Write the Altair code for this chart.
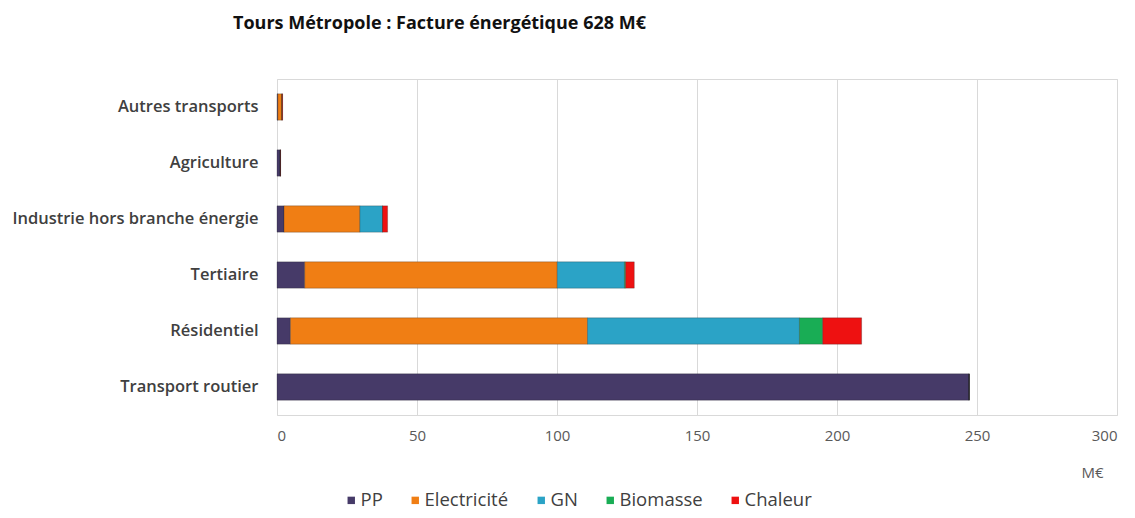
import altair as alt
import pandas as pd

sectors = ["Autres transports", "Agriculture", "Industrie hors branche énergie",
           "Tertiaire", "Résidentiel", "Transport routier"]
sources = ["PP", "Electricité", "GN", "Biomasse", "Chaleur"]
colors = ["#463a68", "#f07e14", "#2ba3c6", "#19ad55", "#ee1111"]

pp = [0.3, 1.2, 2.5, 9.9, 4.8, 247.2]
electricite = [1.5, 0.0, 27.1, 90.2, 106.1, 0.0]
gn = [0.0, 0.0, 8.1, 24.0, 75.7, 0.0]
biomasse = [0.0, 0.0, 0.0, 0.4, 8.3, 0.0]
chaleur = [0.2, 0.1, 1.8, 3.1, 13.9, 0.0]

series = [pp, electricite, gn, biomasse, chaleur]
rows = []
for k, (src, vals) in enumerate(zip(sources, series)):
    for s, v in zip(sectors, vals):
        rows.append({"secteur": s, "source": src, "valeur": v, "ordre": k})
df = pd.DataFrame(rows)

FONT = "Open Sans"

chart = alt.Chart(df).mark_bar(stroke="#222222", strokeWidth=0.6, strokeOpacity=0.45).encode(
    y=alt.Y("secteur:N", sort=sectors, title=None,
            scale=alt.Scale(paddingInner=0.53, paddingOuter=0.265),
            axis=alt.Axis(labelFontSize=16.5, labelColor="#404040", labelFont=FONT,
                          labelFontWeight=600, ticks=False, tickSize=0,
                          domain=False, labelPadding=19, labelLimit=400)),
    x=alt.X("valeur:Q", stack="zero", title="M€",
            scale=alt.Scale(domain=[0, 300], nice=False),
            axis=alt.Axis(values=[0, 50, 100, 150, 200, 250, 300],
                          labelFontSize=15, labelColor="#595959", labelFont=FONT,
                          ticks=False, tickSize=0, domain=False, labelPadding=13,
                          grid=True, gridColor="#d9d9d9",
                          titleFont=FONT, titleFontSize=15, titleFontWeight="normal",
                          titleColor="#595959", titleX=815, titleY=57,
                          titleAnchor="start", titleAlign="center", titleBaseline="middle")),
    color=alt.Color("source:N", sort=sources,
                    scale=alt.Scale(domain=sources, range=colors),
                    legend=alt.Legend(title=None, orient="none", direction="horizontal",
                                      legendX=65, legendY=412, symbolType="square",
                                      symbolSize=55, symbolStrokeWidth=0,
                                      labelFont=FONT, labelFontSize=18.5,
                                      labelColor="#404040", columnPadding=23,
                                      labelOffset=0, padding=0)),
    order=alt.Order("ordre:Q"),
).properties(
    width=840, height=336,
    title=alt.TitleParams("Tours Métropole : Facture énergétique 628 M€",
                          anchor="start", frame="group", dx=-44, offset=46,
                          font=FONT, fontSize=18, fontWeight="bold", color="#111111"),
    autosize=alt.AutoSizeParams(type="none"),
    padding={"left": 269, "top": 71, "right": 10, "bottom": 95},
).configure_view(stroke="#d9d9d9", strokeWidth=1)

chart.save("out.html", embed_options={"renderer": "svg", "actions": False})
